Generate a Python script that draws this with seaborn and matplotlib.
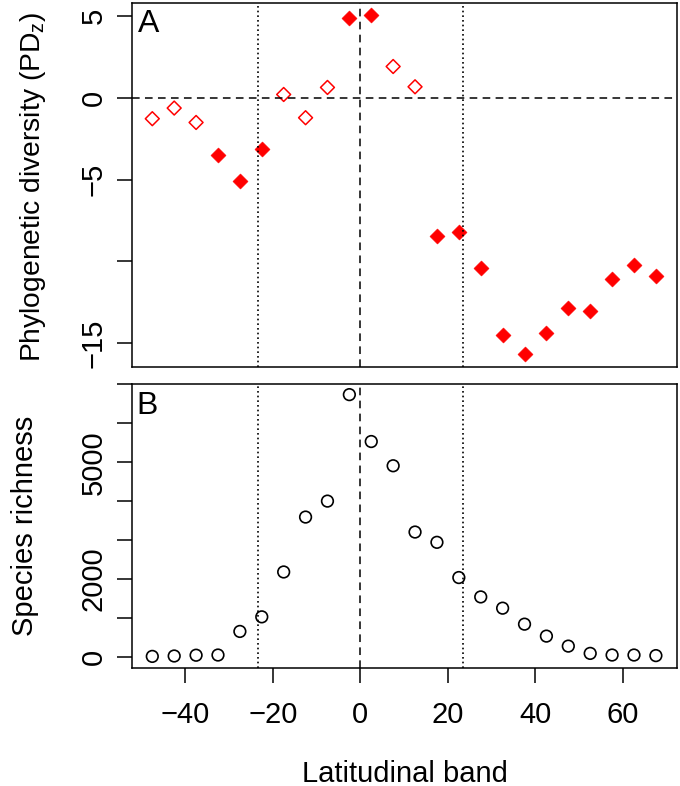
import matplotlib
matplotlib.use("Agg")
import pandas as pd
import seaborn as sns
import matplotlib.pyplot as plt

# Dane: środki pasów szerokości geograficznej
lat_band = [-47.5, -42.5, -37.5, -32.5, -27.5, -22.5, -17.5, -12.5, -7.5, -2.5,
            2.5, 7.5, 12.5, 17.5, 22.5, 27.5, 32.5, 37.5, 42.5, 47.5,
            52.5, 57.5, 62.5, 67.5]
pd_z = [-1.28, -0.63, -1.51, -3.51, -5.06, -3.16, 0.20, -1.22, 0.63, 4.89,
        5.05, 1.91, 0.67, -8.42, -8.19, -10.43, -14.51, -15.65, -14.37, -12.84,
        -13.00, -11.05, -10.19, -10.92]
pd_signif = [False, False, False, True, True, True, False, False, False, True,
             True, False, False, True, True, True, True, True, True, True,
             True, True, True, True]
richness = [10, 20, 40, 45, 651, 1026, 2179, 3590, 4000, 6736,
            5531, 4908, 3205, 2941, 2036, 1538, 1249, 838, 531, 274,
            87, 45, 45, 30]
tropic = 23.44

pd_ticks = [-15, -10, -5, 0, 5]
pd_labels = ["\u221215", "", "\u22125", "0", "5"]
rich_ticks = [0, 1000, 2000, 3000, 4000, 5000, 6000, 7000]
rich_labels = ["0", "", "2000", "", "", "5000", "", ""]
x_ticks = [-40, -20, 0, 20, 40, 60]

df = pd.DataFrame({"lat": lat_band, "pdz": pd_z, "sig": pd_signif,
                   "rich": richness})

sns.set_style("ticks")
plt.rcParams["font.family"] = ["Liberation Sans", "DejaVu Sans"]
plt.rcParams["mathtext.fontset"] = "custom"
plt.rcParams["mathtext.rm"] = "Liberation Sans"
plt.rcParams["text.color"] = "black"
plt.rcParams["axes.labelcolor"] = "black"

fig = plt.figure(figsize=(6.8, 7.86), dpi=100)
ax1 = fig.add_axes([0.1937, 0.5327, 0.8024, 0.4639])
ax2 = fig.add_axes([0.1937, 0.1497, 0.8024, 0.3613])

dashed = (0, (5, 3.5))
dotted = (0, (1, 1.8))

# Panel A
sns.scatterplot(x="lat", y="pdz", data=df[df["sig"]], ax=ax1, marker="D",
                s=60, color="red", edgecolor="red", linewidth=0.3)
sns.scatterplot(x="lat", y="pdz", data=df[~df["sig"]], ax=ax1, marker="D",
                s=50, facecolor="none", edgecolor="red", linewidth=1.1)
ax1.axhline(0, color="black", linestyle=dashed, linewidth=1.1)
ax1.axvline(0, color="black", linestyle=dashed, linewidth=1.1)
for t in (-tropic, tropic):
    ax1.axvline(t, color="black", linestyle=dotted, linewidth=1.2)
ax1.set_xlim(-52.2, 72.4)
ax1.set_ylim(-16.47, 5.81)
ax1.set_xticks([])
ax1.set_yticks(pd_ticks)
ax1.set_yticklabels(pd_labels)
ax1.set_xlabel("")
ax1.set_ylabel(r"Phylogenetic diversity (PD$_\mathrm{z}$)", fontsize=20.3)
ax1.yaxis.set_label_coords(-0.153, 0.495)
ax1.text(0.012, 0.982, "A", transform=ax1.transAxes, fontsize=23,
         ha="left", va="top")

# Panel B
sns.scatterplot(x="lat", y="rich", data=df, ax=ax2, marker="o", s=70,
                facecolor="none", edgecolor="black", linewidth=1.2)
ax2.axvline(0, color="black", linestyle=dashed, linewidth=1.1)
for t in (-tropic, tropic):
    ax2.axvline(t, color="black", linestyle=dotted, linewidth=1.2)
ax2.set_xlim(-52.2, 72.4)
ax2.set_ylim(-297, 6985)
ax2.set_xticks(x_ticks)
ax2.set_yticks(rich_ticks)
ax2.set_yticklabels(rich_labels)
ax2.set_xlabel("Latitudinal band", fontsize=21, labelpad=22)
ax2.set_ylabel("Species richness", fontsize=21)
ax2.yaxis.set_label_coords(-0.170, 0.5)
ax2.text(0.008, 0.978, "B", transform=ax2.transAxes, fontsize=23,
         ha="left", va="top")

for ax in (ax1, ax2):
    for sp in ax.spines.values():
        sp.set_visible(True)
        sp.set_linewidth(1.1)
        sp.set_color("black")
    ax.tick_params(axis="both", length=10.5, width=1.1, color="black",
                   labelsize=21, labelcolor="black")
    ax.tick_params(axis="x", pad=13)
    ax.tick_params(axis="y", pad=7, labelrotation=90)
    for lab in ax.get_yticklabels():
        lab.set_va("center")
    ax.grid(False)
    if ax.get_legend() is not None:
        ax.get_legend().remove()

fig.savefig("out.png", dpi=100)
